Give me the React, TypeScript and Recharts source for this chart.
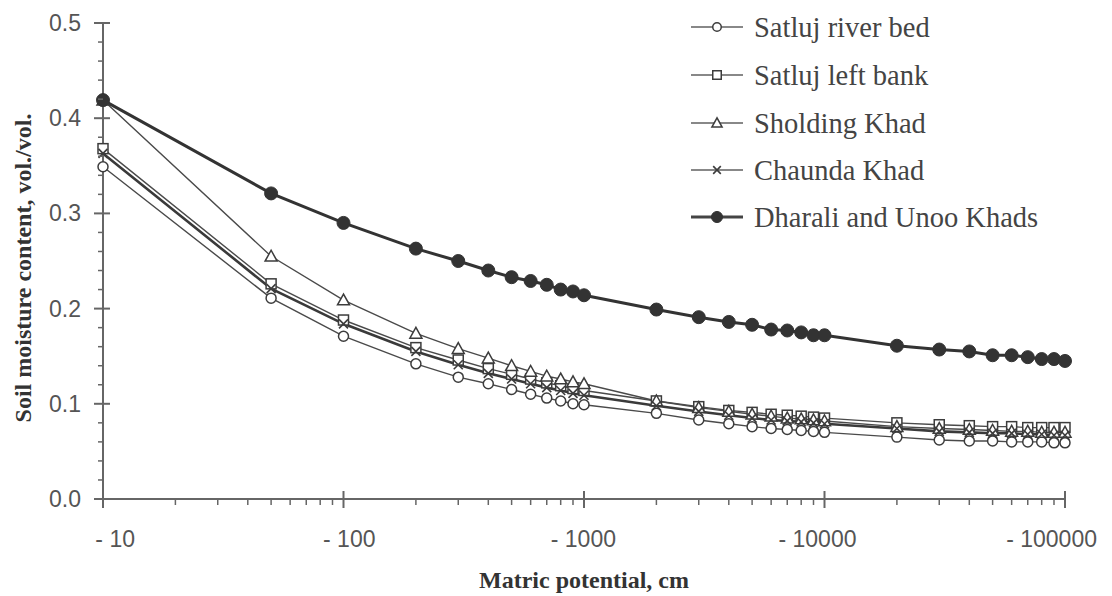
import React from 'react';
import { LineChart, Line, XAxis, YAxis, Legend } from 'recharts';

const potentials = [10, 50, 100, 200, 300, 400, 500, 600, 700, 800, 900, 1000, 2000, 3000, 4000, 5000, 6000, 7000, 8000, 9000, 10000, 20000, 30000, 40000, 50000, 60000, 70000, 80000, 90000, 100000];

const satlujRiverBed = [0.349, 0.211, 0.171, 0.142, 0.128, 0.121, 0.115, 0.110, 0.106, 0.103, 0.100, 0.099, 0.090, 0.083, 0.079, 0.076, 0.074, 0.073, 0.072, 0.071, 0.070, 0.065, 0.062, 0.061, 0.061, 0.060, 0.060, 0.060, 0.059, 0.059];
const satlujLeftBank = [0.368, 0.226, 0.188, 0.159, 0.146, 0.137, 0.131, 0.126, 0.122, 0.119, 0.116, 0.114, 0.103, 0.097, 0.093, 0.091, 0.089, 0.088, 0.087, 0.086, 0.085, 0.080, 0.078, 0.077, 0.076, 0.076, 0.075, 0.075, 0.075, 0.075];
const sholdingKhad = [0.419, 0.255, 0.209, 0.174, 0.158, 0.148, 0.140, 0.134, 0.129, 0.126, 0.123, 0.121, 0.103, 0.096, 0.092, 0.089, 0.087, 0.085, 0.084, 0.083, 0.082, 0.076, 0.074, 0.073, 0.072, 0.071, 0.071, 0.070, 0.070, 0.070];
const chaundaKhad = [0.363, 0.221, 0.184, 0.155, 0.141, 0.132, 0.126, 0.121, 0.117, 0.114, 0.111, 0.109, 0.098, 0.092, 0.088, 0.085, 0.083, 0.082, 0.081, 0.080, 0.079, 0.074, 0.071, 0.070, 0.069, 0.069, 0.068, 0.068, 0.067, 0.067];
const dharaliUnoo = [0.419, 0.321, 0.290, 0.263, 0.250, 0.240, 0.233, 0.229, 0.225, 0.220, 0.218, 0.214, 0.199, 0.191, 0.186, 0.183, 0.178, 0.177, 0.175, 0.172, 0.172, 0.161, 0.157, 0.155, 0.151, 0.151, 0.149, 0.147, 0.147, 0.145];

const seriesNames = ['Satluj river bed', 'Satluj left bank', 'Sholding Khad', 'Chaunda Khad', 'Dharali and Unoo Khads'];
const seriesKeys = ['riverBed', 'leftBank', 'sholding', 'chaunda', 'dharali'];

const xMajorTicks = [10, 100, 1000, 10000, 100000];
const xAllTicks = [10, 20, 30, 40, 50, 60, 70, 80, 90, 100, 200, 300, 400, 500, 600, 700, 800, 900, 1000, 2000, 3000, 4000, 5000, 6000, 7000, 8000, 9000, 10000, 20000, 30000, 40000, 50000, 60000, 70000, 80000, 90000, 100000];
const xTickLabels = ['- 10', '- 100', '- 1000', '- 10000', '- 100000'];
const yAllTicks = [0, 0.02, 0.04, 0.06, 0.08, 0.1, 0.12, 0.14, 0.16, 0.18, 0.2, 0.22, 0.24, 0.26, 0.28, 0.3, 0.32, 0.34, 0.36, 0.38, 0.4, 0.42, 0.44, 0.46, 0.48, 0.5];
const yMajorTicks = [0, 0.1, 0.2, 0.3, 0.4, 0.5];
const yTickLabels = ['0.0', '0.1', '0.2', '0.3', '0.4', '0.5'];

const data = potentials.map((p, i) => ({
  p,
  riverBed: satlujRiverBed[i],
  leftBank: satlujLeftBank[i],
  sholding: sholdingKhad[i],
  chaunda: chaundaKhad[i],
  dharali: dharaliUnoo[i],
}));

const AXIS = '#666';
const SANS = '"Liberation Sans", Arial, sans-serif';
const SERIF = '"Liberation Serif", "Times New Roman", serif';

const XTick = (props: any) => {
  const { x, y, payload } = props;
  const idx = xMajorTicks.indexOf(payload.value);
  if (idx >= 0) {
    return (
      <g>
        <line x1={x} x2={x} y1={y - 8} y2={y + 9} stroke={AXIS} strokeWidth={2} />
        <text x={x + 32} y={y + 48} textAnchor="end" fontFamily={SANS} fontSize={23} fill="#555">
          {xTickLabels[idx]}
        </text>
      </g>
    );
  }
  return <line x1={x} x2={x} y1={y} y2={y + 6} stroke={AXIS} strokeWidth={1.5} />;
};

const YTick = (props: any) => {
  const { x, y, payload } = props;
  const idx = yMajorTicks.findIndex((m) => Math.abs(m - payload.value) < 1e-9);
  if (idx >= 0) {
    return (
      <g>
        <line x1={x - 9} x2={x + 7} y1={y} y2={y} stroke={AXIS} strokeWidth={2} />
        <text x={x - 22} y={y + 8} textAnchor="end" fontFamily={SANS} fontSize={23} fill="#555">
          {yTickLabels[idx]}
        </text>
      </g>
    );
  }
  return <line x1={x - 5} x2={x} y1={y} y2={y} stroke={AXIS} strokeWidth={1.5} />;
};

const drawMarker = (kind: number, cx: number, cy: number, s: number, key?: string) => {
  const stroke = '#3c3c3c';
  const sw = 1.5;
  if (kind === 0) return <circle key={key} cx={cx} cy={cy} r={5 * s} fill="#fff" stroke={stroke} strokeWidth={sw} />;
  if (kind === 1) return <rect key={key} x={cx - 5 * s} y={cy - 5 * s} width={10 * s} height={10 * s} fill="#fff" stroke={stroke} strokeWidth={sw} />;
  if (kind === 2) {
    const h = 6 * s;
    return (
      <polygon key={key} points={`${cx},${cy - h} ${cx - h},${cy + h * 0.8} ${cx + h},${cy + h * 0.8}`} fill="#fff" stroke={stroke} strokeWidth={sw} />
    );
  }
  if (kind === 3) {
    const d = 4.5 * s;
    return (
      <g key={key}>
        <line x1={cx - d} y1={cy - d} x2={cx + d} y2={cy + d} stroke={stroke} strokeWidth={1.6} />
        <line x1={cx - d} y1={cy + d} x2={cx + d} y2={cy - d} stroke={stroke} strokeWidth={1.6} />
      </g>
    );
  }
  return <circle key={key} cx={cx} cy={cy} r={6.5 * s} fill="#333" stroke="#333" strokeWidth={1} />;
};

const makeDot = (kind: number) => (props: any) => {
  const { cx, cy, index } = props;
  if (cx == null || cy == null) return <g key={`e-${kind}-${index}`} />;
  return drawMarker(kind, cx, cy, 1, `m-${kind}-${index}`);
};

const lineStyles = [
  { stroke: '#4a4a4a', width: 1.4 },
  { stroke: '#4a4a4a', width: 1.4 },
  { stroke: '#4a4a4a', width: 1.4 },
  { stroke: '#3a3a3a', width: 2.6 },
  { stroke: '#333', width: 3 },
];

const legendRowY = [27, 75, 123, 170, 217];

const renderLegend = () => (
  <svg width={430} height={240} style={{ display: 'block' }}>
    {seriesNames.map((name, i) => {
      const y = legendRowY[i];
      const dark = i === 4;
      return (
        <g key={name}>
          <line x1={11} x2={63} y1={y} y2={y} stroke={dark ? '#444' : '#888'} strokeWidth={dark ? 3 : 2} />
          {drawMarker(i, 37, y, 0.85)}
          <text x={74} y={y + 9.5} fontFamily={SERIF} fontSize={28.5} fill="#444">
            {name}
          </text>
        </g>
      );
    })}
  </svg>
);

export default function App() {
  return (
    <div style={{ position: 'absolute', left: 0, top: 0, width: 1112, height: 596, background: '#fff' }}>
      <LineChart width={1112} height={596} data={data} margin={{ top: 23, right: 47, left: 43, bottom: 37 }}>
        <XAxis
          dataKey="p"
          type="number"
          scale="log"
          domain={[10, 100000]}
          ticks={xAllTicks}
          interval={0}
          tickSize={0}
          tickMargin={0}
          tickLine={false}
          tick={(p: any) => <XTick key={`xt-${p.payload.value}`} {...p} />}
          axisLine={{ stroke: AXIS, strokeWidth: 2 }}
          height={60}
          label={(p: any) => {
            const vb = p.viewBox;
            return (
              <text x={vb.x + vb.width / 2} y={vb.y + 89} textAnchor="middle" fontFamily={SERIF} fontWeight="bold" fontSize={24} fill="#333">
                Matric potential, cm
              </text>
            );
          }}
        />
        <YAxis
          type="number"
          domain={[0, 0.5]}
          ticks={yAllTicks}
          interval={0}
          tickSize={0}
          tickMargin={0}
          tickLine={false}
          tick={(p: any) => <YTick key={`yt-${p.payload.value}`} {...p} />}
          axisLine={{ stroke: AXIS, strokeWidth: 2 }}
          width={60}
          label={(p: any) => {
            const vb = p.viewBox;
            const cx = vb.x - 20;
            const cy = vb.y + vb.height / 2 + 7;
            return (
              <text x={cx} y={cy} transform={`rotate(-90 ${cx} ${cy})`} textAnchor="middle" dominantBaseline="central" fontFamily={SERIF} fontWeight="bold" fontSize={24} fill="#333">
                Soil moisture content, vol./vol.
              </text>
            );
          }}
        />
        <Legend
          layout="horizontal"
          verticalAlign="middle"
          align="center"
          content={renderLegend}
          wrapperStyle={{ left: 680, top: 0, width: 430, height: 240 }}
        />
        {seriesKeys.map((k, i) => (
          <Line
            key={k}
            dataKey={k}
            name={seriesNames[i]}
            type="linear"
            stroke={lineStyles[i].stroke}
            strokeWidth={lineStyles[i].width}
            dot={makeDot(i)}
            activeDot={false}
            isAnimationActive={false}
          />
        ))}
      </LineChart>
    </div>
  );
}
